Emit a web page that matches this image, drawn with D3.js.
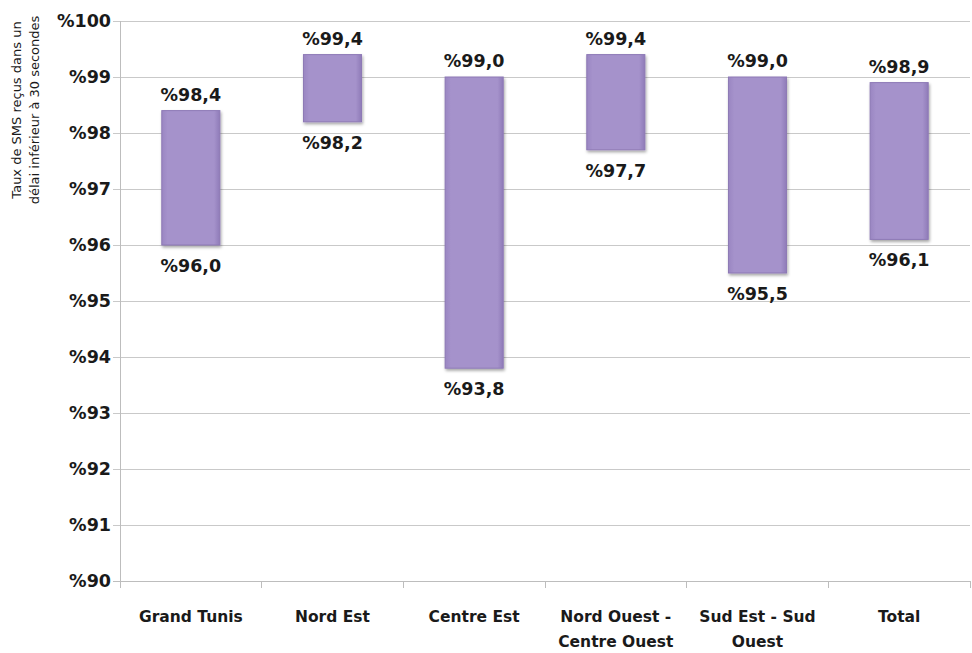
<!DOCTYPE html>
<html><head><meta charset="utf-8">
<script src="https://cdn.jsdelivr.net/npm/d3@7"></script>
<style>
html,body{margin:0;padding:0;background:#fff;}
svg{display:block;}
text{font-family:"DejaVu Sans","Open Sans",sans-serif;fill:#1a1a1a;}
</style></head>
<body>
<svg id="c" width="972" height="653"></svg>
<script>
const categories = ["Grand Tunis","Nord Est","Centre Est","Nord Ouest - Centre Ouest","Sud Est - Sud Ouest","Total"];
const categoryLines = [["Grand Tunis"],["Nord Est"],["Centre Est"],["Nord Ouest -","Centre Ouest"],["Sud Est - Sud","Ouest"],["Total"]];
const lowValues = [96.0, 98.2, 93.8, 97.7, 95.5, 96.1];
const highValues = [98.4, 99.4, 99.0, 99.4, 99.0, 98.9];
const yTicks = [90,91,92,93,94,95,96,97,98,99,100];
const yTitle = ["Taux de SMS reçus dans un","délai inférieur à 30 secondes"];

const svg = d3.select("#c");
const m = {left:120, right:2, top:21, bottom:72};
const W = 972, H = 653;
const x = d3.scaleBand().domain(categories).range([m.left, W - m.right]).paddingInner(0).paddingOuter(0);
const y = d3.scaleLinear().domain([90,100]).range([H - m.bottom, m.top]);

const defs = svg.append("defs");
const g = defs.append("linearGradient").attr("id","barg").attr("x1","0").attr("x2","1").attr("y1","0").attr("y2","0");
g.append("stop").attr("offset","0").attr("stop-color","#9a86c2");
g.append("stop").attr("offset","0.1").attr("stop-color","#a592cb");
g.append("stop").attr("offset","0.9").attr("stop-color","#a592cb");
g.append("stop").attr("offset","1").attr("stop-color","#8f7bb8");
const f = defs.append("filter").attr("id","sh").attr("x","-20%").attr("y","-20%").attr("width","140%").attr("height","140%");
f.append("feDropShadow").attr("dx",1).attr("dy",2).attr("stdDeviation",1.5).attr("flood-color","#000").attr("flood-opacity",0.35);

// gridlines
svg.append("g").selectAll("line").data(yTicks).join("line")
  .attr("x1", m.left - 7).attr("x2", W - m.right)
  .attr("y1", d => y(d)).attr("y2", d => y(d))
  .attr("stroke", d => d === 90 ? "#bdbdbd" : "#c9c9c9").attr("stroke-width", 1)
  .attr("shape-rendering","crispEdges");

// left axis line
svg.append("line").attr("x1", m.left).attr("x2", m.left).attr("y1", y(100)).attr("y2", y(90))
  .attr("stroke","#bdbdbd").attr("shape-rendering","crispEdges");

// bottom category ticks
const bounds = categories.map(c => x(c)).concat([W - m.right]);
svg.append("g").selectAll("line").data(bounds).join("line")
  .attr("x1", d => d).attr("x2", d => d).attr("y1", y(90)).attr("y2", y(90) + 7)
  .attr("stroke","#bdbdbd").attr("shape-rendering","crispEdges");

// y tick labels
svg.append("g").selectAll("text").data(yTicks).join("text")
  .attr("x", m.left - 9).attr("y", d => y(d)).attr("dy","0.36em")
  .attr("text-anchor","end").attr("font-size",17.5).attr("font-weight","bold")
  .text(d => "%" + d);

// y title
const yt = svg.append("text").attr("transform","translate(21,110) rotate(-90)")
  .attr("text-anchor","middle").attr("font-size",13);
yTitle.forEach((t,i) => yt.append("tspan").attr("x",0).attr("dy", i === 0 ? "0" : "18").text(t));

// bars
const bw = x.bandwidth() * 0.41;
const data = categories.map((c,i) => ({c, lo: lowValues[i], hi: highValues[i]}));
svg.append("g").selectAll("rect").data(data).join("rect")
  .attr("x", d => x(d.c) + x.bandwidth()/2 - bw/2)
  .attr("y", d => y(d.hi))
  .attr("width", bw)
  .attr("height", d => y(d.lo) - y(d.hi))
  .attr("fill","url(#barg)").attr("stroke","#8d79b5").attr("stroke-width",1)
  .attr("filter","url(#sh)");

const fmt = v => "%" + v.toFixed(1).replace(".", ",");
// value labels
svg.append("g").selectAll("text").data(data).join("text")
  .attr("x", d => x(d.c) + x.bandwidth()/2).attr("y", d => y(d.hi) - 10)
  .attr("text-anchor","middle").attr("font-size",17.5).attr("font-weight","bold")
  .text(d => fmt(d.hi));
svg.append("g").selectAll("text").data(data).join("text")
  .attr("x", d => x(d.c) + x.bandwidth()/2).attr("y", d => y(d.lo) + 27)
  .attr("text-anchor","middle").attr("font-size",17.5).attr("font-weight","bold")
  .text(d => fmt(d.lo));

// category labels
const cl = svg.append("g").selectAll("text").data(categories).join("text")
  .attr("x", d => x(d) + x.bandwidth()/2).attr("y", 622)
  .attr("text-anchor","middle").attr("font-size",15.5).attr("font-weight","bold");
cl.each(function(d,i){
  const t = d3.select(this);
  categoryLines[i].forEach((s,j) => t.append("tspan").attr("x", x(d) + x.bandwidth()/2).attr("dy", j === 0 ? 0 : 25).text(s));
});
</script>
</body></html>
